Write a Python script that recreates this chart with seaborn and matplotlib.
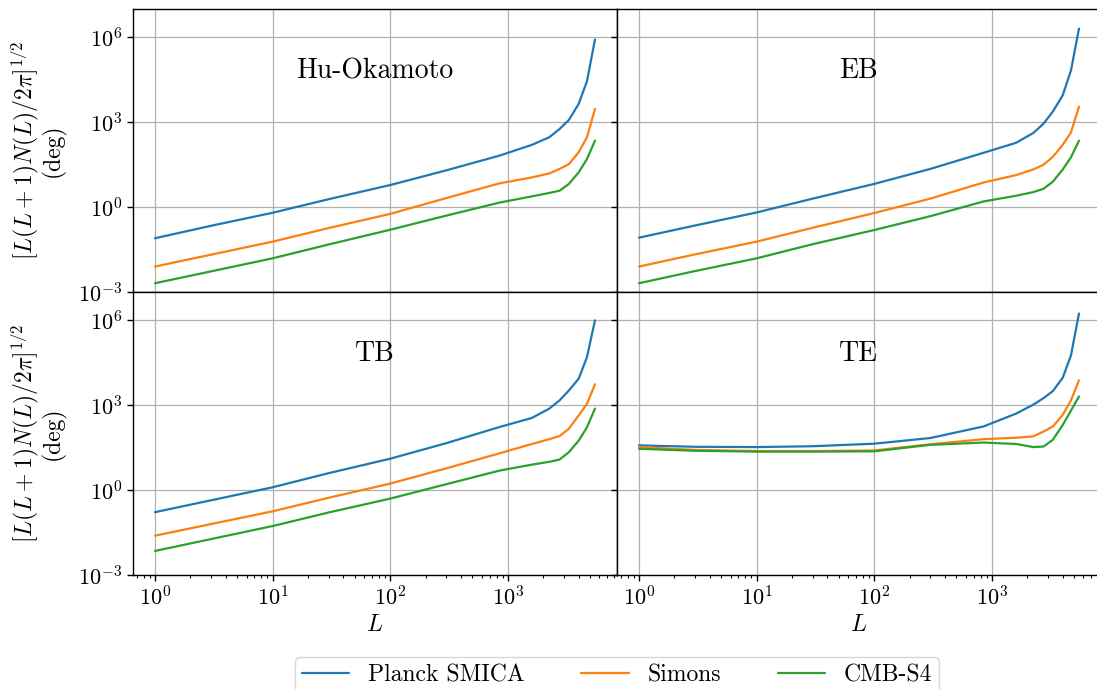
import numpy as np
import pandas as pd
import matplotlib
matplotlib.use("Agg")
import matplotlib.pyplot as plt
from matplotlib.lines import Line2D
import seaborn as sns

# multipole grid shared by all panels
L = [1, 3, 10, 30, 100, 300, 850, 1600, 2250, 2750, 3300, 4000, 4700, 5500]

experiments = ["Planck SMICA", "Simons", "CMB-S4"]
colors = ["#1f77b4", "#ff7f0e", "#2ca02c"]
panels = ["Hu-Okamoto", "EB", "TB", "TE"]

# log10 of the noise curves
hu_planck = [-1.10, -0.66, -0.20, 0.28, 0.78, 1.30, 1.82, 2.20, 2.47, 2.76, 3.08, 3.65, 4.45, 5.92]
hu_simons = [-2.10, -1.68, -1.22, -0.74, -0.24, 0.32, 0.84, 1.05, 1.19, 1.35, 1.52, 1.94, 2.47, 3.47]
hu_s4 = [-2.69, -2.27, -1.81, -1.32, -0.80, -0.30, 0.16, 0.38, 0.50, 0.58, 0.82, 1.23, 1.70, 2.35]

eb_planck = [-1.08, -0.65, -0.19, 0.30, 0.82, 1.35, 1.92, 2.27, 2.62, 2.95, 3.38, 3.95, 4.83, 6.31]
eb_simons = [-2.10, -1.67, -1.22, -0.73, -0.21, 0.30, 0.87, 1.13, 1.33, 1.50, 1.78, 2.20, 2.64, 3.55]
eb_s4 = [-2.69, -2.26, -1.81, -1.31, -0.81, -0.32, 0.20, 0.40, 0.53, 0.65, 0.90, 1.33, 1.76, 2.35]

tb_planck = [-0.78, -0.36, 0.10, 0.60, 1.11, 1.66, 2.23, 2.55, 2.88, 3.17, 3.52, 3.94, 4.70, 6.00]
tb_simons = [-1.61, -1.20, -0.75, -0.27, 0.23, 0.77, 1.30, 1.63, 1.80, 1.91, 2.17, 2.64, 3.05, 3.74]
tb_s4 = [-2.15, -1.73, -1.27, -0.79, -0.30, 0.21, 0.69, 0.90, 1.00, 1.08, 1.34, 1.75, 2.22, 2.88]

te_planck = [1.58, 1.53, 1.52, 1.55, 1.64, 1.84, 2.25, 2.70, 3.02, 3.25, 3.50, 3.97, 4.76, 6.24]
te_simons = [1.52, 1.42, 1.38, 1.38, 1.40, 1.62, 1.80, 1.85, 1.90, 2.07, 2.25, 2.66, 3.17, 3.88]
te_s4 = [1.46, 1.39, 1.36, 1.36, 1.37, 1.60, 1.68, 1.63, 1.52, 1.54, 1.78, 2.30, 2.81, 3.31]

curves = {
    "Hu-Okamoto": [hu_planck, hu_simons, hu_s4],
    "EB": [eb_planck, eb_simons, eb_s4],
    "TB": [tb_planck, tb_simons, tb_s4],
    "TE": [te_planck, te_simons, te_s4],
}

rows = []
for p in panels:
    for exp, vals in zip(experiments, curves[p]):
        for l, v in zip(L, vals):
            rows.append({"panel": p, "experiment": exp, "L": l, "N": 10 ** v})
df = pd.DataFrame(rows)

sns.set_style("ticks")
plt.rcParams["font.family"] = ["cmr10", "DejaVu Serif"]
plt.rcParams["mathtext.fontset"] = "cm"
plt.rcParams["axes.formatter.use_mathtext"] = True
plt.rcParams["axes.edgecolor"] = "black"
plt.rcParams["xtick.color"] = "black"
plt.rcParams["ytick.color"] = "black"
plt.rcParams["axes.labelcolor"] = "black"
plt.rcParams["text.color"] = "black"

fig, axes = plt.subplots(2, 2, sharex=True, sharey=True, figsize=(10.97, 6.89), dpi=100)
fig.subplots_adjust(left=133 / 1097, right=1101 / 1097, top=1 - 9 / 689,
                    bottom=1 - 575 / 689, hspace=0, wspace=0)

palette = dict(zip(experiments, colors))
for ax, p in zip(axes.flat, panels):
    sns.lineplot(data=df[df["panel"] == p], x="L", y="N", hue="experiment",
                 palette=palette, ax=ax, legend=False, linewidth=1.6)
    ax.set_xscale("log")
    ax.set_yscale("log")
    ax.grid(True, color="#b0b0b0", linewidth=0.9)
    ax.set_axisbelow(True)
    ax.text(0.5, 0.78, p, transform=ax.transAxes, ha="center", va="center", fontsize=20)
    ax.set_xlabel("")
    ax.set_ylabel("")
    ax.tick_params(labelsize=16, length=4, width=1)
    ax.tick_params(which="minor", length=2.5, width=0.8)
    for s in ax.spines.values():
        s.set_linewidth(1.0)

axes[0, 0].set_ylim(1e-3, 1e7)
axes[0, 0].set_yticks([1e-3, 1, 1e3, 1e6])
axes[0, 0].yaxis.set_minor_locator(matplotlib.ticker.NullLocator())
axes[0, 0].set_xticks([1, 10, 100, 1000])

ylab = "$[L(L+1)N(L)/2\\pi]^{1/2}$\n(deg)"
for ax in axes[:, 0]:
    ax.set_ylabel(ylab, fontsize=17, linespacing=1.0, labelpad=9)
for ax in axes[1, :]:
    ax.set_xlabel("$L$", fontsize=17, labelpad=3)

handles = [Line2D([], [], color=c, linewidth=1.6) for c in colors]
fig.legend(handles, experiments, loc="upper center", ncol=3, fontsize=17,
           bbox_to_anchor=(617 / 1097, 1 - 645 / 689), frameon=True,
           borderpad=0.3, columnspacing=2.4, handlelength=2.0)

fig.savefig("out.png", dpi=100)
